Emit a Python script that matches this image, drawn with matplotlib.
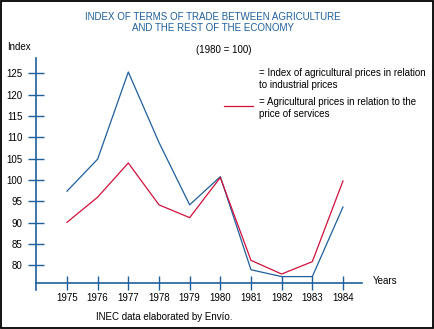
#Index of terms of trade between agriculture and the rest of the economy
#Two series (1980 = 100), drawn with matplotlib

import numpy as np
import matplotlib.pyplot as plt

plt.rcParams['font.family'] = ['Liberation Sans', 'DejaVu Sans']

#data read for each year
years = [1975, 1976, 1977, 1978, 1979, 1980, 1981, 1982, 1983, 1984]
industrial = [97.4, 104.9, 125.3, 108.8, 94.2, 100.8, 79.0, 77.4, 77.4, 93.7]
services = [90.1, 96.0, 104.0, 94.2, 91.2, 100.6, 81.2, 78.0, 80.9, 99.8]
yticks = [80, 85, 90, 95, 100, 105, 110, 115, 120, 125]

blue = '#1f5f9c'
red = '#d0103c'

fig = plt.figure(figsize=(4.35, 3.29), dpi=100)
ax = fig.add_axes([36/435, 1 - 290/329, 326/435, 232/329])

ax.plot(years, industrial, color=blue, lw=0.9)
ax.plot(years, services, color=red, lw=0.9)

ax.set_xlim(1973.99, 1984.62)
ax.set_ylim(74.26, 128.58)

#axes: only the left and bottom lines, crossing ticks
for s in ['top', 'right']:
    ax.spines[s].set_visible(False)
ax.spines['bottom'].set_position(('data', 75.9))
for s in ['left', 'bottom']:
    ax.spines[s].set_color(blue)
    ax.spines[s].set_linewidth(1.2)

ax.set_xticks(years)
ax.set_xticklabels([str(y) for y in years])
ax.set_yticks(yticks)
ax.tick_params(axis='y', direction='inout', length=11.5, width=1.0, color=blue,
               labelsize=7, pad=4)
ax.tick_params(axis='x', direction='inout', length=9.5, width=1.0, color=blue,
               labelsize=7, pad=2.5)
ax.patch.set_visible(False)

#titles and notes
fig.text(213/435, 1 - 17/329, 'INDEX OF TERMS OF TRADE BETWEEN AGRICULTURE',
         color=blue, fontsize=7, ha='center', va='center')
fig.text(213/435, 1 - 28/329, 'AND THE REST OF THE ECONOMY',
         color=blue, fontsize=7, ha='center', va='center')
fig.text(224/435, 1 - 50/329, '(1980 = 100)', fontsize=7, ha='center', va='center')
fig.text(7/435, 1 - 47/329, 'Index', fontsize=7, ha='left', va='center')
fig.text(373/435, 1 - 281/329, 'Years', fontsize=7, ha='left', va='center')
fig.text(96/435, 1 - 317/329, 'INEC data elaborated by Envío.', fontsize=7,
         ha='left', va='center')

#legend texts
fig.text(259/435, 1 - 79/329, '= Index of agricultural prices in relation\nto industrial prices',
         fontsize=7, ha='left', va='center', linespacing=1.15)
fig.text(259/435, 1 - 108/329, '= Agricultural prices in relation to the\nprice of services',
         fontsize=7, ha='left', va='center', linespacing=1.15)
fig.add_artist(plt.Line2D([224/435, 253/435], [1 - 106/329, 1 - 106/329],
                          color=red, lw=0.9))

#frame round the picture
fig.add_artist(plt.Rectangle((0.5/435, 1.5/329), 432.5/435, 326.5/329, fill=False,
                             edgecolor='black', lw=1.3))

plt.savefig('out.png', dpi=100)
